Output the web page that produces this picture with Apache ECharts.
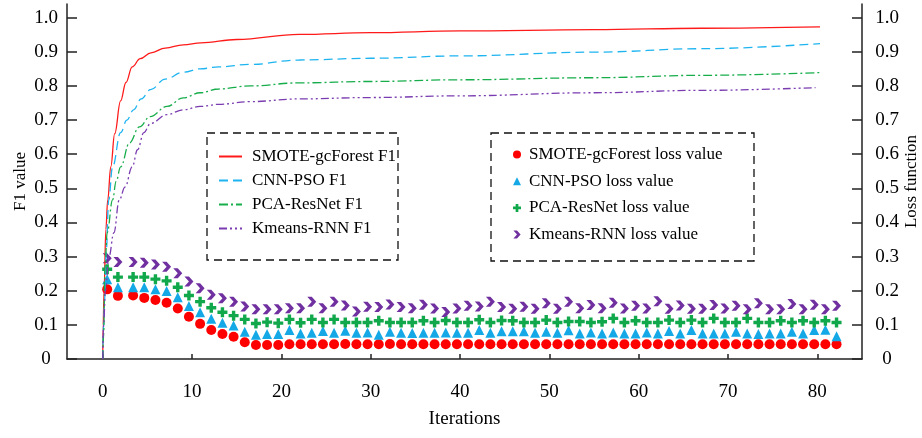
<!DOCTYPE html>
<html>
<head>
<meta charset="utf-8">
<script src="https://cdn.jsdelivr.net/npm/echarts@6/dist/echarts.min.js"></script>
<style>
    html,body{margin:0;padding:0;background:#fff;}
    #main{width:922px;height:438px;}
</style>
</head>
<body>
<div id="main"></div>
<script>
// F1 curves (x = iterations, y = F1)
var smoteF1X = [0,0.05,0.15,0.35,0.56,0.9,1.34,2.0,2.6,3.3,4.2,5.4,7,9,11,15,22,30,40,55,67,80.3];
var smoteF1Y = [0,0.1,0.2,0.38,0.466,0.563,0.66,0.756,0.81,0.856,0.88,0.897,0.911,0.92,0.926,0.936,0.951,0.956,0.961,0.965,0.969,0.973];
var cnnF1X = [0,0.1,0.2,0.4,0.67,1.1,2.0,2.7,3.45,4.3,5.35,7,9,10.9,13,16.5,22,30,40,55,67,80.3];
var cnnF1Y = [0,0.1,0.17,0.32,0.466,0.563,0.663,0.7,0.73,0.762,0.789,0.82,0.84,0.85,0.856,0.863,0.876,0.881,0.888,0.899,0.909,0.924];
var pcaF1X = [0,0.1,0.25,0.5,1.1,1.5,2.0,3.0,4.1,5.3,7.2,9,10.9,13,16.5,22,30,40,55,67,80.3];
var pcaF1Y = [0,0.07,0.27,0.37,0.466,0.52,0.563,0.633,0.68,0.71,0.74,0.765,0.78,0.791,0.8,0.809,0.813,0.818,0.824,0.831,0.839];
var kmF1X = [0,0.1,0.3,0.7,1.25,1.85,2.5,3.3,3.9,4.6,5.35,7.2,9,10.9,13,16.5,22,30,40,55,67,79.8];
var kmF1Y = [0,0.1,0.2,0.3,0.37,0.466,0.504,0.563,0.613,0.663,0.69,0.716,0.73,0.74,0.746,0.754,0.762,0.766,0.771,0.78,0.787,0.795];

// loss values, sampled at the same iterations for all four models
var lossX = [0.5,1.7,3.4,4.65,5.9,7.15,8.4,9.65,10.9,12.15,13.4,14.65,15.9,17.15,18.4,19.65,20.9,22.15,23.4,24.65,
    25.9,27.15,28.4,29.65,30.9,32.15,33.4,34.65,35.9,37.15,38.4,39.65,40.9,42.15,43.4,44.65,45.9,47.15,48.4,49.65,
    50.9,52.15,53.4,54.65,55.9,57.15,58.4,59.65,60.9,62.15,63.4,64.65,65.9,67.15,68.4,69.65,70.9,72.15,73.4,74.65,
    75.9,77.15,78.4,79.65,80.9,82.15];
var smoteLoss = [0.204,0.185,0.186,0.179,0.173,0.165,0.148,0.124,0.103,0.085,
    0.073,0.065,0.049,0.041,0.041,0.041,0.043,0.043,0.043,0.043,
    0.043,0.044,0.043,0.043,0.043,0.044,0.043,0.043,0.043,0.043,
    0.043,0.043,0.043,0.043,0.043,0.043,0.043,0.043,0.043,0.043,
    0.043,0.043,0.043,0.043,0.043,0.043,0.043,0.043,0.043,0.043,
    0.043,0.043,0.043,0.043,0.043,0.043,0.043,0.043,0.043,0.043,
    0.043,0.043,0.043,0.043,0.043,0.043];
var cnnLoss = [0.234,0.210,0.210,0.210,0.204,0.199,0.181,0.155,0.137,0.118,
    0.106,0.098,0.080,0.071,0.073,0.073,0.085,0.075,0.077,0.082,
    0.077,0.083,0.077,0.078,0.071,0.080,0.077,0.076,0.077,0.077,
    0.078,0.077,0.077,0.085,0.077,0.081,0.081,0.081,0.077,0.080,
    0.077,0.084,0.075,0.078,0.075,0.078,0.075,0.075,0.078,0.075,
    0.082,0.075,0.085,0.075,0.075,0.075,0.080,0.075,0.073,0.075,
    0.075,0.080,0.075,0.085,0.086,0.067];
var pcaLoss = [0.263,0.240,0.240,0.240,0.234,0.229,0.210,0.186,0.168,0.150,
    0.137,0.127,0.116,0.104,0.108,0.105,0.116,0.106,0.116,0.107,
    0.116,0.107,0.107,0.107,0.112,0.107,0.107,0.107,0.112,0.107,
    0.113,0.107,0.107,0.115,0.107,0.113,0.112,0.107,0.107,0.114,
    0.107,0.110,0.110,0.107,0.109,0.119,0.107,0.112,0.107,0.107,
    0.114,0.107,0.114,0.107,0.119,0.107,0.107,0.119,0.107,0.107,
    0.112,0.107,0.112,0.107,0.112,0.107];
var kmLoss = [0.295,0.284,0.284,0.282,0.277,0.270,0.251,0.227,0.207,0.188,
    0.178,0.168,0.154,0.146,0.146,0.146,0.149,0.149,0.168,0.149,
    0.168,0.157,0.139,0.153,0.152,0.160,0.152,0.149,0.159,0.148,
    0.138,0.148,0.156,0.154,0.168,0.152,0.147,0.153,0.147,0.163,
    0.147,0.168,0.149,0.158,0.149,0.165,0.148,0.156,0.148,0.169,
    0.147,0.157,0.147,0.147,0.158,0.148,0.156,0.146,0.163,0.146,
    0.146,0.161,0.146,0.159,0.146,0.156];

var xTicks = [0,10,20,30,40,50,60,70,80];
var yTicks = [0,0.1,0.2,0.3,0.4,0.5,0.6,0.7,0.8,0.9,1.0];

var FONT = 'Liberation Serif';

function pairs(xs, ys) {
    var out = [];
    for (var i = 0; i < xs.length; i++) {
        out.push([xs[i], ys[i]]);
    }
    return out;
}

function yAxisFor(pos, margin, gap) {
    return {
        type: 'value',
        position: pos,
        min: 0,
        max: 1.04,
        name: pos == 'left' ? 'F1 value' : 'Loss function',
        nameLocation: 'middle',
        nameRotate: 90,
        nameGap: gap,
        nameMoveOverlap: false,
        nameTextStyle: {fontFamily: FONT, fontSize: 17, color: '#000'},
        splitLine: {show: false},
        axisLine: {show: true, onZero: false, lineStyle: {color: '#222', width: 1.5}},
        axisTick: {show: true, inside: true, length: 10, customValues: yTicks, lineStyle: {color: '#222', width: 1.5}},
        axisLabel: {
            customValues: yTicks,
            align: 'center',
            margin: margin,
            fontFamily: FONT,
            fontSize: 19,
            color: '#000',
            formatter: function (v) { return v === 0 ? '0' : v.toFixed(1); }
        }
    };
}

var F1_NAMES = ['SMOTE-gcForest F1', 'CNN-PSO F1', 'PCA-ResNet F1', 'Kmeans-RNN F1'];
var LOSS_NAMES = ['SMOTE-gcForest loss value', 'CNN-PSO loss value', 'PCA-ResNet loss value', 'Kmeans-RNN loss value'];

var plusPath = 'path://M3.3,0 L6.7,0 L6.7,3.3 L10,3.3 L10,6.7 L6.7,6.7 L6.7,10 L3.3,10 L3.3,6.7 L0,6.7 L0,3.3 L3.3,3.3 Z';
var chevronPath = 'path://M0,0 L4.5,0 L9,5 L4.5,10 L0,10 L4.5,5 Z';

function lineSeries(name, xs, ys, color, type) {
    return {
        name: name,
        type: 'line',
        yAxisIndex: 0,
        data: pairs(xs, ys),
        symbol: 'none',
        smooth: 0.4,
        smoothMonotone: 'x',
        lineStyle: {color: color, width: 1.3, type: type},
        itemStyle: {color: color},
        z: 3
    };
}

function lossSeries(name, ys, color, symbol, size) {
    return {
        name: name,
        type: 'scatter',
        yAxisIndex: 1,
        data: pairs(lossX, ys),
        symbol: symbol,
        symbolSize: size,
        itemStyle: {color: color, opacity: 1},
        z: 2
    };
}

var option = {
    animation: false,
    backgroundColor: '#fff',
    grid: {left: 67, right: 60, top: 4, bottom: 79, containLabel: false, outerBoundsMode: 'none'},
    xAxis: {
        type: 'value',
        min: -4,
        max: 85,
        name: 'Iterations',
        nameLocation: 'middle',
        nameGap: 51,
        nameMoveOverlap: false,
        nameTextStyle: {fontFamily: FONT, fontSize: 19, color: '#000'},
        splitLine: {show: false},
        axisLine: {show: true, onZero: false, lineStyle: {color: '#222', width: 1.5}},
        axisTick: {show: true, inside: true, length: 5, customValues: xTicks, lineStyle: {color: '#222', width: 1.5}},
        axisLabel: {customValues: xTicks, margin: 24, fontFamily: FONT, fontSize: 19, color: '#000'}
    },
    yAxis: [yAxisFor('left', 21, 38), yAxisFor('right', 25, 41)],
    legend: [{
        data: F1_NAMES,
        orient: 'vertical',
        left: 218,
        top: 148,
        padding: 0,
        itemWidth: 23,
        itemHeight: 14,
        itemGap: 7,
        itemStyle: {opacity: 0},
        textStyle: {fontFamily: FONT, fontSize: 17, color: '#000', lineHeight: 17, padding: [0, 0, 0, 5]}
    }, {
        data: LOSS_NAMES,
        orient: 'vertical',
        left: 513,
        top: 146,
        padding: 0,
        itemWidth: 8,
        itemHeight: 8,
        itemGap: 9.7,
        textStyle: {fontFamily: FONT, fontSize: 17, color: '#000', lineHeight: 17, padding: [0, 0, 0, 3]}
    }],
    // dashed frames round the two legends
    graphic: [{
        type: 'rect',
        shape: {x: 207, y: 133, width: 191, height: 127},
        style: {fill: 'none', stroke: '#111', lineWidth: 1.3, lineDash: [8, 5]},
        z: 1
    }, {
        type: 'rect',
        shape: {x: 491, y: 133, width: 263, height: 128},
        style: {fill: 'none', stroke: '#111', lineWidth: 1.3, lineDash: [8, 5]},
        z: 1
    }],
    series: [
        lineSeries(F1_NAMES[0], smoteF1X, smoteF1Y, '#ff1a1a', 'solid'),
        lineSeries(F1_NAMES[1], cnnF1X, cnnF1Y, '#1eb4f0', [9, 5]),
        lineSeries(F1_NAMES[2], pcaF1X, pcaF1Y, '#16ad4a', [9, 3, 2, 3]),
        lineSeries(F1_NAMES[3], kmF1X, kmF1Y, '#7a3cb0', [8, 3, 2, 3, 2, 3]),
        lossSeries(LOSS_NAMES[0], smoteLoss, '#ff0000', 'circle', 10),
        lossSeries(LOSS_NAMES[1], cnnLoss, '#14a9e6', 'triangle', 10),
        lossSeries(LOSS_NAMES[2], pcaLoss, '#10a84a', plusPath, 10),
        lossSeries(LOSS_NAMES[3], kmLoss, '#7030a0', chevronPath, [9, 10])
    ]
};

var myChart = echarts.init(document.getElementById('main'));
myChart.setOption(option);
</script>
</body>
</html>
